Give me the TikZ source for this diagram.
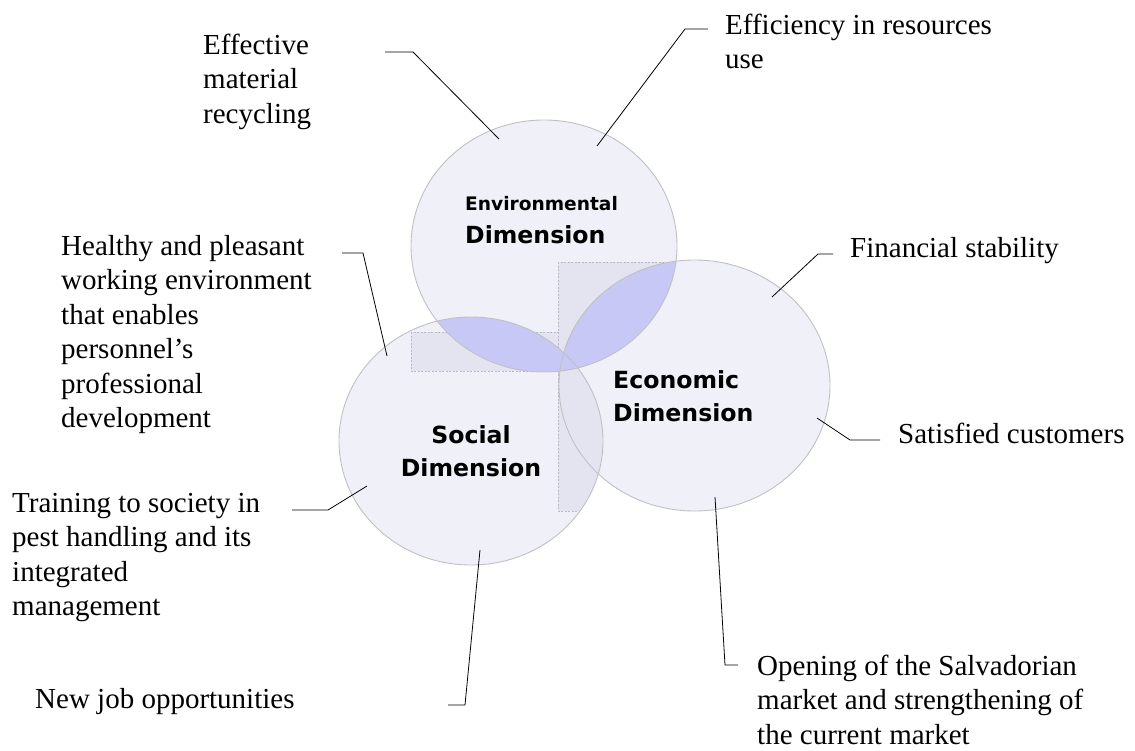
\documentclass[tikz,border=0pt]{standalone}
\usepackage{fontspec}
\setmainfont{Liberation Serif}
\newfontfamily\dimfont{DejaVu Sans}
\definecolor{circfill}{RGB}{240,240,248}
\definecolor{circline}{RGB}{192,192,196}
\definecolor{lensfill}{RGB}{200,200,247}
\definecolor{rectfill}{RGB}{228,228,240}
\definecolor{rectline}{RGB}{185,185,195}
\newcommand{\lns}[1]{\begin{tabular}[t]{@{}l@{}}#1\end{tabular}}
\newcommand{\clns}[1]{\begin{tabular}[t]{@{}c@{}}#1\end{tabular}}
\tikzset{
  txt/.style={font=\fontsize{29}{34.5}\selectfont, inner sep=0pt, anchor=base west},
  dimlbl/.style={font=\dimfont\bfseries\fontsize{23.6}{33}\selectfont, inner sep=0pt, anchor=base west},
  leader/.style={draw=black, line width=0.8pt},
  circ/.style={draw=circline, line width=0.9pt},
  shade/.style={fill=rectfill, draw=rectline, dashed, dash pattern=on 2pt off 1.5pt, line width=0.5pt}
}
\begin{document}
\begin{tikzpicture}[x=1pt,y=-1pt]
\useasboundingbox (0,0) rectangle (1135,750);
% circles fill
\fill[circfill] (544,246) ellipse [x radius=133, y radius=126];
\fill[circfill] (694.5,385.5) ellipse [x radius=135.5, y radius=125.5];
\fill[circfill] (471,441) ellipse [x radius=132, y radius=124];
% faint rectangles
\begin{scope}
  \clip (471,441) ellipse [x radius=132, y radius=124];
  \path[shade] (411,332) rectangle (558,371);
  \path[shade] (558,262) rectangle (677,511);
\end{scope}
\begin{scope}
  \clip (544,246) ellipse [x radius=133, y radius=126];
  \path[shade] (411,332) rectangle (558,371);
  \path[shade] (558,262) rectangle (677,511);
\end{scope}
% lenses
\begin{scope}
  \clip (544,246) ellipse [x radius=133, y radius=126];
  \fill[lensfill] (471,441) ellipse [x radius=132, y radius=124];
  \fill[lensfill] (694.5,385.5) ellipse [x radius=135.5, y radius=125.5];
\end{scope}
% outlines
\draw[circ] (544,246) ellipse [x radius=133, y radius=126];
\draw[circ] (694.5,385.5) ellipse [x radius=135.5, y radius=125.5];
\draw[circ] (471,441) ellipse [x radius=132, y radius=124];
% circle labels
\node[dimlbl] (envlbl) at (465,210) {\lns{{\fontsize{18.6}{22}\selectfont Environmental}\\Dimension}};
\node[dimlbl] (ecolbl) at (613,388) {\lns{Economic\\Dimension}};
\node[dimlbl, anchor=base] (soclbl) at (471,443) {\clns{Social\\Dimension}};
% texts
\node[txt] (t1) at (203,54) {\lns{Effective\\material\\recycling}};
\node[txt] (t2) at (725,34) {\lns{Efficiency in resources\\use}};
\node[txt] (t3) at (61,255) {\lns{Healthy and pleasant\\working environment\\that enables\\personnel’s\\professional\\development}};
\node[txt] (t4) at (12,512) {\lns{Training to society in\\pest handling and its\\integrated\\management}};
\node[txt] (t5) at (35,708) {New job opportunities};
\node[txt] (t6) at (850,257) {Financial stability};
\node[txt] (t7) at (898,443) {Satisfied customers};
\node[txt] (t8) at (757,675) {\lns{Opening of the Salvadorian\\market and strengthening of\\the current market}};
% leader coordinates
\coordinate (a1) at (385,52);  \coordinate (b1) at (413,52);  \coordinate (c1) at (499,139);
\coordinate (a2) at (708,29);  \coordinate (b2) at (685,29);  \coordinate (c2) at (597,146);
\coordinate (a3) at (342,253); \coordinate (b3) at (363,253); \coordinate (c3) at (387,356);
\coordinate (a4) at (292,510); \coordinate (b4) at (328,510); \coordinate (c4) at (367,486);
\coordinate (a5) at (448,705); \coordinate (b5) at (465,705); \coordinate (c5) at (480,550);
\coordinate (a6) at (833,254); \coordinate (b6) at (818,254); \coordinate (c6) at (772,297);
\coordinate (a7) at (880,440); \coordinate (b7) at (850,440); \coordinate (c7) at (817,418);
\coordinate (a8) at (738,665); \coordinate (b8) at (725,665); \coordinate (c8) at (715,497);
\foreach \i in {1,...,8} {\draw[leader] (a\i) -- (b\i) -- (c\i);}
\end{tikzpicture}
\end{document}
